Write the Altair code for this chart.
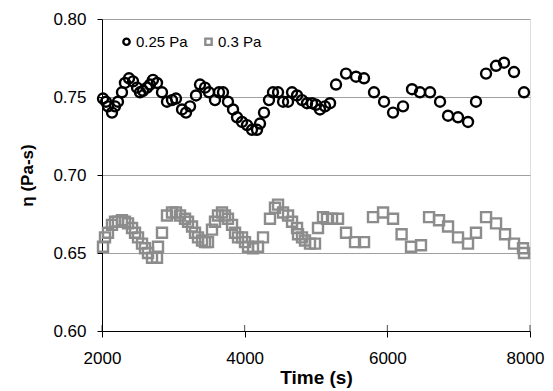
import altair as alt
import pandas as pd

series_names = ["0.25 Pa", "0.3 Pa"]

t_025 = [2014, 2056, 2084, 2140, 2182, 2224, 2280, 2322, 2379, 2435, 2491, 2533, 2575, 2631, 2673,
         2715, 2771, 2841, 2911, 2981, 3037, 3122, 3178, 3234, 3318, 3374, 3444, 3500, 3584, 3640,
         3696, 3766, 3837, 3893, 3963, 4033, 4103, 4173, 4215, 4271, 4341, 4397, 4468, 4538, 4608,
         4664, 4734, 4804, 4874, 4944, 5000, 5056, 5126, 5197, 5281, 5421, 5561, 5673, 5813, 5954,
         6080, 6220, 6346, 6458, 6599, 6739, 6851, 6991, 7131, 7243, 7384, 7524, 7636, 7776, 7916]
eta_025 = [0.749, 0.747, 0.744, 0.740, 0.744, 0.747, 0.753, 0.759, 0.762, 0.760, 0.756, 0.753, 0.754,
           0.756, 0.758, 0.761, 0.759, 0.753, 0.747, 0.748, 0.749, 0.742, 0.740, 0.744, 0.751, 0.758,
           0.756, 0.753, 0.748, 0.753, 0.753, 0.747, 0.742, 0.737, 0.734, 0.732, 0.729, 0.729, 0.733,
           0.740, 0.748, 0.753, 0.753, 0.747, 0.747, 0.753, 0.751, 0.748, 0.746, 0.746, 0.745, 0.742,
           0.744, 0.746, 0.758, 0.765, 0.763, 0.762, 0.753, 0.747, 0.740, 0.744, 0.755, 0.753, 0.753,
           0.747, 0.738, 0.737, 0.734, 0.747, 0.765, 0.770, 0.772, 0.766, 0.753]

t_03 = [2014, 2042, 2084, 2140, 2182, 2224, 2280, 2322, 2365, 2421, 2463, 2505, 2561, 2603, 2645,
        2701, 2771, 2785, 2841, 2911, 2981, 3037, 3094, 3164, 3206, 3262, 3304, 3346, 3402, 3444,
        3486, 3542, 3584, 3626, 3682, 3724, 3766, 3823, 3865, 3907, 3963, 4005, 4047, 4117, 4187,
        4257, 4355, 4425, 4468, 4538, 4608, 4664, 4734, 4748, 4804, 4846, 4916, 4986, 5028, 5098,
        5154, 5225, 5309, 5421, 5547, 5673, 5799, 5940, 6080, 6200, 6332, 6472, 6585, 6725, 6851,
        6991, 7131, 7243, 7384, 7524, 7650, 7776, 7902, 7916]
eta_03 = [0.654, 0.660, 0.663, 0.668, 0.670, 0.670, 0.671, 0.670, 0.669, 0.666, 0.663, 0.660, 0.656,
          0.653, 0.650, 0.647, 0.647, 0.654, 0.663, 0.674, 0.676, 0.676, 0.674, 0.672, 0.670, 0.667,
          0.663, 0.660, 0.658, 0.657, 0.657, 0.665, 0.670, 0.674, 0.676, 0.674, 0.672, 0.668, 0.663,
          0.660, 0.660, 0.657, 0.654, 0.653, 0.654, 0.660, 0.672, 0.679, 0.681, 0.676, 0.674, 0.670,
          0.666, 0.662, 0.660, 0.658, 0.656, 0.656, 0.666, 0.673, 0.672, 0.672, 0.672, 0.663, 0.657,
          0.657, 0.673, 0.676, 0.672, 0.662, 0.654, 0.655, 0.673, 0.671, 0.667, 0.660, 0.656, 0.663,
          0.673, 0.669, 0.662, 0.656, 0.653, 0.650]

x_ticks = [2000, 4000, 6000, 8000]
y_ticks = [0.60, 0.65, 0.70, 0.75, 0.80]

df = pd.concat([
    pd.DataFrame({"t": t_025, "eta": eta_025, "series": series_names[0]}),
    pd.DataFrame({"t": t_03, "eta": eta_03, "series": series_names[1]}),
])
ticks_df = pd.DataFrame({"t": x_ticks})

FONT = "Liberation Sans"

x_enc = alt.X("t:Q", title="Time (s)",
              scale=alt.Scale(domain=[2000, 8000], nice=False),
              axis=alt.Axis(values=x_ticks, format="d", grid=False, labelFontSize=17,
                            labelFont=FONT, labelColor="black", labelPadding=13, labelFlush=False,
                            labelOffset={"condition": {"test": "datum.value == 8000", "value": -5},
                                         "value": 0},
                            tickSize=6, tickColor="black", domainColor="black",
                            titleFont=FONT, titleFontSize=19, titleFontWeight="bold",
                            titleColor="black", titlePadding=2))
y_enc = alt.Y("eta:Q", title="η (Pa-s)",
              scale=alt.Scale(domain=[0.60, 0.80], nice=False, zero=False),
              axis=alt.Axis(values=y_ticks, format=".2f", grid=True, gridColor="#a0a0a0",
                            labelFontSize=17, labelFont=FONT, labelColor="black", labelFlush=False,
                            labelPadding=11, tickSize=5, tickColor="black", domainColor="black",
                            titleFont=FONT, titleFontSize=17, titleFontWeight="bold",
                            titleColor="black", titlePadding=16))

pts = alt.Chart(df).mark_point(filled=False, size=100, strokeWidth=2.4, opacity=1).encode(
    x=x_enc,
    y=y_enc,
    color=alt.Color("series:N", scale=alt.Scale(domain=series_names, range=["black", "#8c8c8c"]),
                    legend=alt.Legend(title=None, orient="none", legendX=17, legendY=15,
                                      direction="horizontal", labelFont=FONT, labelFontSize=15,
                                      labelColor="black", symbolSize=40, symbolStrokeWidth=2.4,
                                      symbolOpacity=1, columnPadding=12, labelOffset=2)),
    shape=alt.Shape("series:N", scale=alt.Scale(domain=series_names, range=["circle", "square"]),
                    legend=None),
)

inner_ticks = alt.Chart(ticks_df).mark_tick(orient="vertical", size=6, thickness=1,
                                              color="black", yOffset=-3).encode(
    x=alt.X("t:Q"),
    y=alt.datum(0.60),
)

chart = alt.layer(pts, inner_ticks).properties(
    width=428, height=312,
    autosize=alt.AutoSizeParams(type="none"),
    padding={"left": 94, "top": 11, "right": 15, "bottom": 60},
).configure_view(stroke="#555", strokeWidth=1).configure(background="white")

chart.save("out.html", embed_options={"renderer": "svg", "actions": False})
